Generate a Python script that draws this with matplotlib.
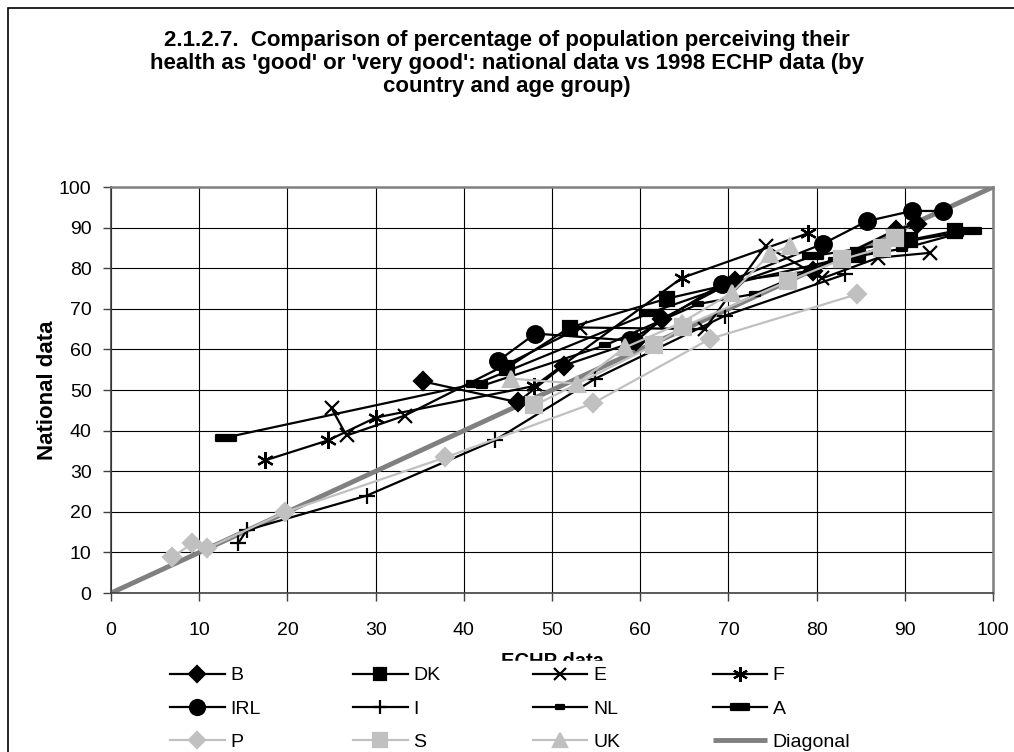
import numpy as np
import matplotlib
matplotlib.use("Agg")
from matplotlib import pyplot as plt
from matplotlib.path import Path
from matplotlib.patches import Rectangle

# ECHP (x) vs national (y) share reporting good / very good health, by age group
b_x = [35.4, 46.1, 51.3, 59.5, 62.5, 70.7, 79.6, 89.0, 91.4]
b_y = [52.1, 47.0, 56.0, 62.0, 67.6, 76.9, 79.4, 89.5, 90.9]
dk_x = [44.9, 52.0, 63.0, 84.7, 90.6, 95.7]
dk_y = [55.5, 65.4, 72.5, 83.3, 87.0, 89.2]
e_x = [25.0, 26.7, 33.3, 53.2, 67.3, 74.2, 80.6, 87.0, 92.9]
e_y = [45.5, 38.8, 43.7, 65.4, 65.0, 85.5, 77.5, 82.6, 83.8]
f_x = [17.5, 24.6, 30.0, 48.0, 64.7, 79.0]
f_y = [32.7, 37.6, 43.2, 51.0, 77.6, 88.6]
irl_x = [43.9, 48.1, 58.8, 69.3, 80.7, 85.7, 90.8, 94.3]
irl_y = [57.2, 63.9, 62.2, 76.2, 86.0, 91.6, 94.1, 94.1]
i_x = [14.4, 15.4, 29.0, 43.5, 54.9, 69.6, 83.2]
i_y = [12.2, 15.5, 24.0, 37.6, 52.8, 68.3, 78.5]
nl_x = [42.0, 56.0, 66.6, 73.0, 82.0, 89.7, 96.0]
nl_y = [51.0, 61.0, 71.2, 73.7, 82.0, 84.8, 88.5]
a_x = [13.0, 41.5, 61.1, 79.6, 97.5]
a_y = [38.3, 51.6, 69.0, 83.0, 89.2]
p_x = [6.9, 9.2, 10.9, 19.7, 37.9, 54.6, 67.9, 84.6]
p_y = [8.8, 12.2, 11.0, 19.9, 33.4, 46.7, 62.6, 73.6]
s_x = [48.0, 61.5, 64.8, 76.8, 82.9, 87.4, 88.9]
s_y = [46.2, 61.0, 65.5, 76.9, 82.2, 85.0, 87.5]
uk_x = [45.4, 52.8, 58.3, 64.7, 70.4, 74.7, 77.0]
uk_y = [52.8, 51.6, 60.5, 66.6, 74.0, 83.5, 85.5]
diag = [0, 100]

plt.rcParams['font.family'] = ['Liberation Sans', 'DejaVu Sans']

# flat bar markers used by Excel for NL and A
wide_bar = Path([(-1, -0.35), (1, -0.35), (1, 0.35), (-1, 0.35), (-1, -0.35)],
                [Path.MOVETO, Path.LINETO, Path.LINETO, Path.LINETO, Path.CLOSEPOLY])

blk = "black"
gry = "#c0c0c0"
series = [
    ("B", b_x, b_y, blk, "D", 9),
    ("DK", dk_x, dk_y, blk, "s", 10),
    ("E", e_x, e_y, blk, "x", 10),
    ("F", f_x, f_y, blk, (6, 2, 0), 12),
    ("IRL", irl_x, irl_y, blk, "o", 12),
    ("I", i_x, i_y, blk, "+", 11),
    ("NL", nl_x, nl_y, blk, wide_bar, 7),
    ("A", a_x, a_y, blk, wide_bar, 14),
    ("P", p_x, p_y, gry, "D", 9),
    ("S", s_x, s_y, gry, "s", 11),
    ("UK", uk_x, uk_y, gry, "^", 11),
]

fig = plt.figure(figsize=(10.14, 7.52), dpi=100)
ax = fig.add_axes([0.1095, 0.2114, 0.8699, 0.5399])

handles = {}
for name, xs, ys, col, mk, ms in series:
    h, = ax.plot(xs, ys, color=col, lw=1.6, marker=mk, markersize=ms,
                 markerfacecolor=col, markeredgecolor=col, markeredgewidth=1.6,
                 label=name, zorder=3, clip_on=False)
    handles[name] = h
h, = ax.plot(diag, diag, color="#808080", lw=3.5, label="Diagonal", zorder=2.5,
             solid_capstyle="butt")
handles["Diagonal"] = h

ax.set_xlim(0, 100)
ax.set_ylim(0, 100)
ax.set_xticks(np.arange(0, 101, 10))
ax.set_yticks(np.arange(0, 101, 10))
ax.grid(True, color="black", lw=0.8, zorder=1)
ax.set_axisbelow(True)
for side in ["top", "right"]:
    ax.spines[side].set_color("#808080")
    ax.spines[side].set_linewidth(1.8)
for side in ["left", "bottom"]:
    ax.spines[side].set_color("#404040")
    ax.spines[side].set_linewidth(1.2)
ax.tick_params(direction="out", length=6, width=1, color="#404040", labelsize=14)
ax.tick_params(axis="y", pad=8)
ax.tick_params(axis="x", pad=15)

ax.set_ylabel("National data", fontsize=16, fontweight="bold", labelpad=1)
# the legend box sits over the lower part of this label
ax.set_xlabel("ECHP data", fontsize=14.5, fontweight="bold", labelpad=9)

fig.text(0.5, 0.96,
         "2.1.2.7.  Comparison of percentage of population perceiving their\n"
         "health as 'good' or 'very good': national data vs 1998 ECHP data (by\n"
         "country and age group)",
         ha="center", va="top", fontsize=16, fontweight="bold", linespacing=1.12)

# legend is filled column by column, so list it in that order for 4 columns
order = ["B", "IRL", "P", "DK", "I", "S", "E", "NL", "UK", "F", "A", "Diagonal"]
leg = fig.legend(handles=[handles[k] for k in order], ncol=4, loc="upper left",
                 bbox_to_anchor=(0.162, 0.121), borderaxespad=0, frameon=True,
                 fontsize=14, handlelength=2.8, handletextpad=0.3,
                 columnspacing=4.75, labelspacing=0.8, borderpad=0.3,
                 markerscale=0.9, fancybox=False)
leg.get_frame().set_facecolor("white")
leg.get_frame().set_edgecolor("white")
leg.get_frame().set_alpha(1)

# outer chart-area frame
fig.patches.append(Rectangle((8 / 1014, -0.05), 1.2, 1 - 8 / 752 + 0.05,
                             transform=fig.transFigure, fill=False,
                             edgecolor="black", lw=1.2))

fig.savefig("out.png", dpi=100)
